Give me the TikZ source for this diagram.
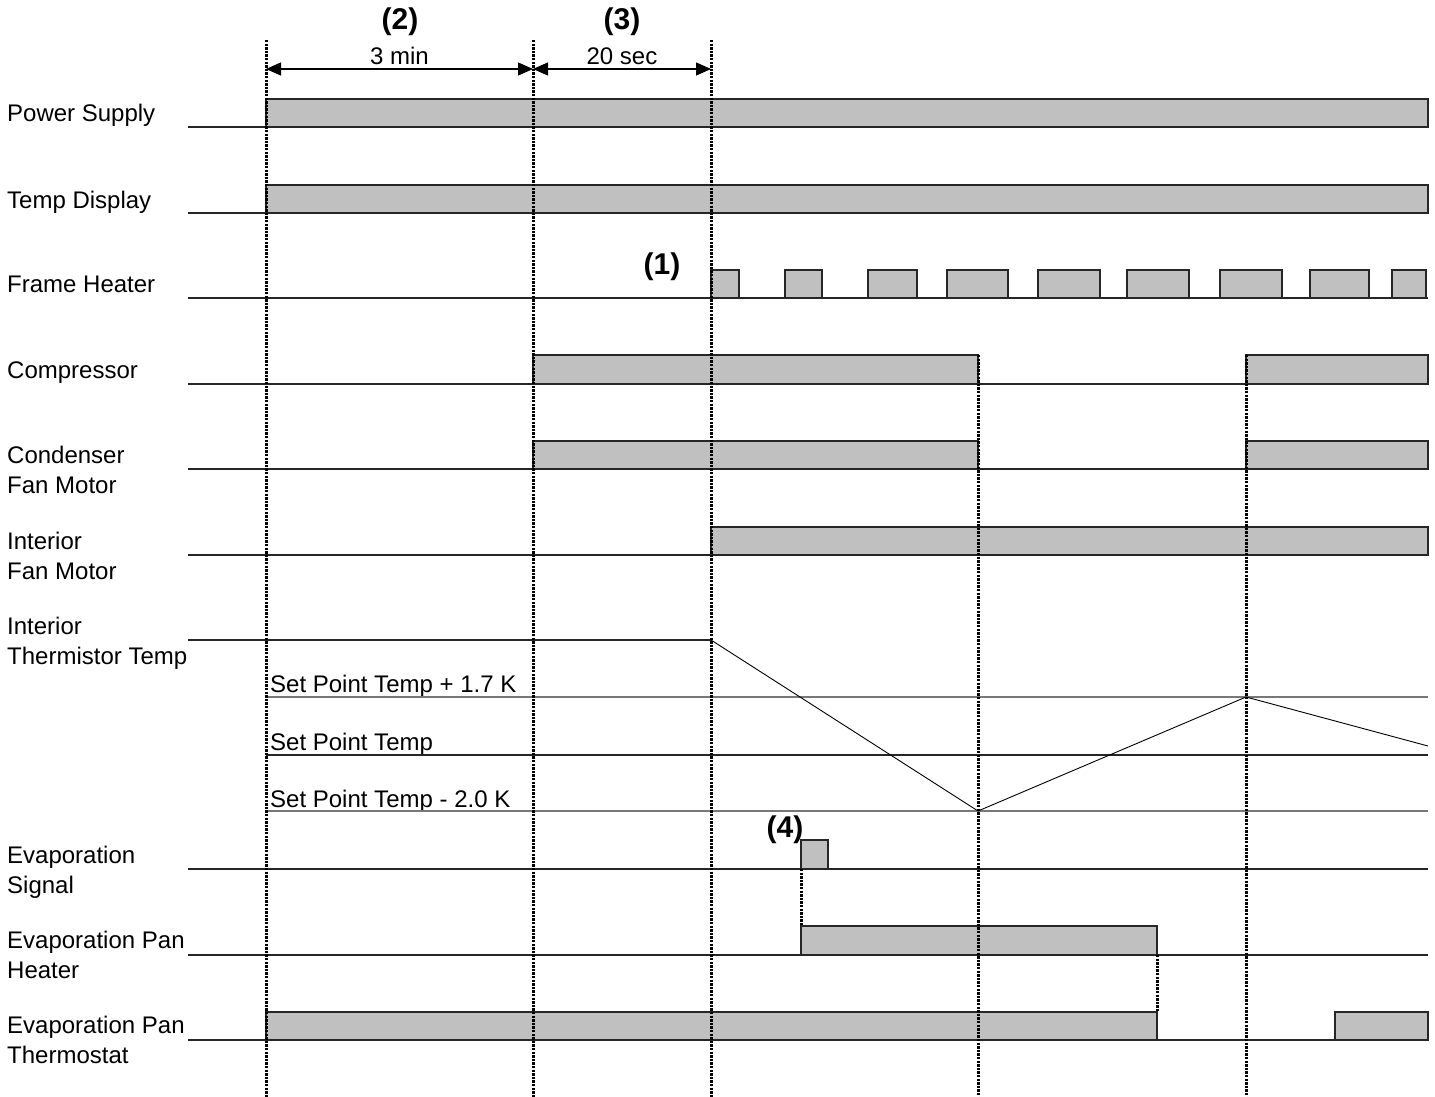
\documentclass[tikz,border=0pt]{standalone}
\usepackage{fontspec}
\setmainfont{Liberation Sans}
\usetikzlibrary{arrows.meta}
\definecolor{barfill}{RGB}{192,192,192}
\definecolor{refgray}{RGB}{120,120,120}
\begin{document}
\begin{tikzpicture}[
    x=1pt, y=-1pt,
    sigbar/.style={draw=black!85, fill=barfill, line width=1.4pt},
    baseln/.style={draw=black!85, line width=1.8pt},
    refln/.style={draw=refgray, line width=1.4pt},
    ramp/.style={draw=black, line width=0.9pt},
    timeln/.style={draw=black, line width=3pt, dash pattern=on 2.4pt off 1.2pt},
    dimarrow/.style={{Triangle[length=15pt,width=13pt]}-{Triangle[length=15pt,width=13pt]},
      draw=black, line width=1.2pt},
    siglab/.style={anchor=base west, align=left, inner sep=0pt,
      font=\fontsize{24}{29.5}\selectfont},
    dimlab/.style={anchor=base, inner sep=0pt, yshift=4pt,
      font=\fontsize{24}{29}\selectfont},
    steplab/.style={inner sep=0pt, font=\fontsize{30}{34}\selectfont\bfseries}
  ]
  \useasboundingbox (0,0) rectangle (1435,1097);

  % ============ Time marks ============
  \coordinate (t0) at (266,40);
  \coordinate (t1) at (533,40);
  \coordinate (t2) at (711,40);
  \coordinate (t3) at (978,355);
  \coordinate (t4) at (1246,355);
  \coordinate (bot) at (0,1097);

  % ============ Signal labels (base = last line) ============
  \node[siglab] (lpower)  at (7,122)  {Power Supply};
  \node[siglab] (ldisp)   at (7,208)  {Temp Display};
  \node[siglab] (lframe)  at (7,292)  {Frame Heater};
  \node[siglab] (lcomp)   at (7,378)  {Compressor};
  \node[siglab] (lcond)   at (7,493)  {Condenser\\Fan Motor};
  \node[siglab] (lintfan) at (7,579)  {Interior\\Fan Motor};
  \node[siglab] (ltherm)  at (7,664)  {Interior\\Thermistor Temp};
  \node[siglab] (lsignal) at (7,893)  {Evaporation\\Signal};
  \node[siglab] (lpanh)   at (7,978)  {Evaporation Pan\\Heater};
  \node[siglab] (lpant)   at (7,1063) {Evaporation Pan\\Thermostat};

  % ============ Bars (on state) ============
  \draw[sigbar] (266,99) rectangle (1428,127);
  \draw[sigbar] (266,185) rectangle (1428,213);
  \foreach \a/\b in {711/739,785/822,868/917,947/1008,1038/1100,
                     1127/1189,1220/1282,1310/1369,1392/1426}
    \draw[sigbar] (\a,270) rectangle (\b,298);
  \draw[sigbar] (533,355) rectangle (978,384);
  \draw[sigbar] (1246,355) rectangle (1428,384);
  \draw[sigbar] (533,441) rectangle (978,469);
  \draw[sigbar] (1246,441) rectangle (1428,469);
  \draw[sigbar] (711,527) rectangle (1428,555);
  \draw[sigbar] (801,840) rectangle (828,869);
  \draw[sigbar] (801,926) rectangle (1157,955);
  \draw[sigbar] (266,1012) rectangle (1157,1040);
  \draw[sigbar] (1335,1012) rectangle (1428,1040);

  % ============ Base lines (off state) ============
  \foreach \y in {127,213,298,384,469,555,869,955,1040}
    \draw[baseln] (188,\y) -- (1428,\y);

  % ============ Thermistor temperature ============
  \node[siglab] (sphigh) at (270,692) {Set Point Temp + 1.7 K};
  \node[siglab] (spmid)  at (270,750) {Set Point Temp};
  \node[siglab] (splow)  at (270,807) {Set Point Temp - 2.0 K};
  \draw[refln] (266,697) -- (1428,697);
  \draw[baseln] (266,755) -- (1428,755);
  \draw[refln] (266,811) -- (1428,811);
  \coordinate (th0) at (188,640);
  \coordinate (th1) at (711,640);
  \coordinate (th2) at (978,811);
  \coordinate (th3) at (1246,697);
  \coordinate (th4) at (1428,746);
  \draw[baseln] (th0) -- (th1);
  \draw[ramp] (th1) -- (th2) -- (th3) -- (th4);

  % ============ Timing marks (dotted) ============
  \draw[timeln] (t0) -- (t0 |- bot);
  \draw[timeln] (t1) -- (t1 |- bot);
  \draw[timeln] (t2) -- (t2 |- bot);
  \draw[timeln] (t3) -- (t3 |- bot);
  \draw[timeln] (t4) -- (t4 |- bot);
  \coordinate (evs) at (801,869);
  \coordinate (evh) at (801,926);
  \coordinate (phe) at (1157,955);
  \coordinate (pte) at (1157,1012);
  \draw[timeln] (evs) -- (evh);
  \draw[timeln] (phe) -- (pte);

  % ============ Delays ============
  \coordinate (d0) at (266,69);
  \coordinate (d1) at (533,69);
  \coordinate (d2) at (711,69);
  \draw[dimarrow] (d0) -- node[dimlab] {3 min} (d1);
  \draw[dimarrow] (d1) -- node[dimlab] {20 sec} (d2);

  \node[steplab] (step2) at (400,22)  {(2)};
  \node[steplab] (step3) at (622,22)  {(3)};
  \node[steplab] (step1) at (662,267) {(1)};
  \node[steplab] (step4) at (785,830) {(4)};

\end{tikzpicture}
\end{document}
